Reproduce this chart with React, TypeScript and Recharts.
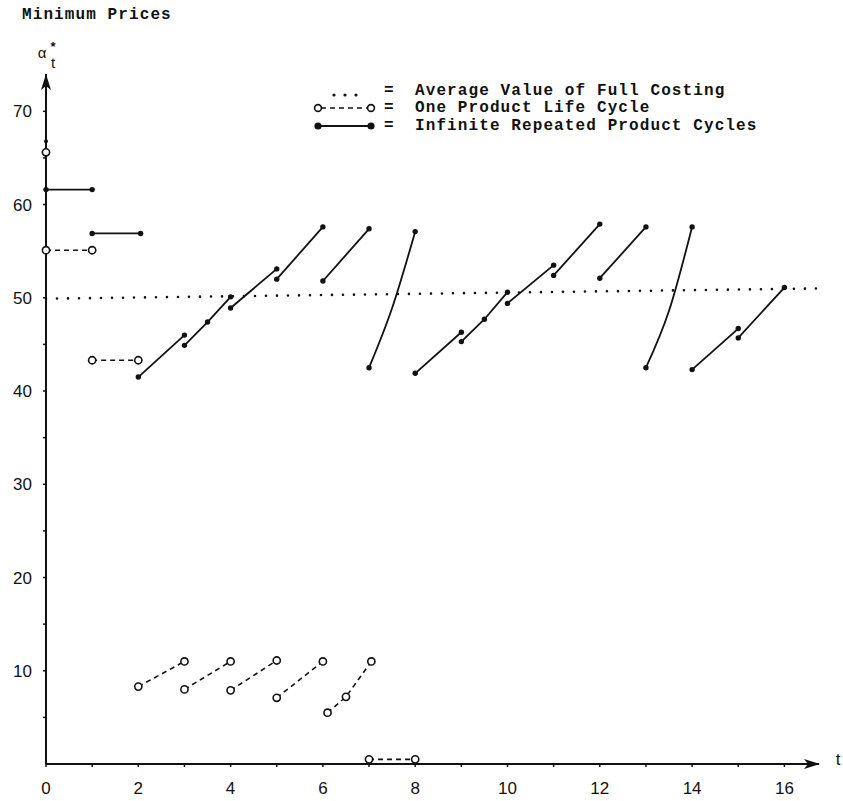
import { ComposedChart, Line, XAxis, YAxis, ReferenceDot } from "recharts";

type Pt = [number, number]; // [t, minimum price]

// average value of full costing (dotted)
const averageCosting: Pt[] = [
  [0, 49.9],
  [16.75, 51.0],
];

// infinite repeated product cycles (solid, filled dots)
const infiniteStart: Pt[] = [[0, 66.8]];
const infiniteSteps: Pt[][] = [
  [[0, 61.6], [1, 61.6]],
  [[1, 56.9], [2.05, 56.9]],
];
const infiniteCycles: Pt[][] = [
  [[2, 41.5], [3, 46.0]],
  [[3, 44.9], [3.5, 47.4], [4, 50.1]],
  [[4, 48.9], [5, 53.1]],
  [[5, 52.0], [6, 57.6]],
  [[6, 51.8], [7, 57.4]],
  [[8, 41.9], [9, 46.3]],
  [[9, 45.3], [9.5, 47.7], [10, 50.6]],
  [[10, 49.4], [11, 53.5]],
  [[11, 52.4], [12, 57.9]],
  [[12, 52.1], [13, 57.6]],
  [[14, 42.3], [15, 46.7]],
  [[15, 45.7], [16, 51.1]],
];
const infiniteJumps: Pt[][] = [
  [[7, 42.5], [7.5, 48.9], [8, 57.1]],
  [[13, 42.5], [13.5, 48.6], [14, 57.6]],
];

// one product life cycle (dashed, open circles)
const oneCycleStart: Pt[] = [[0, 65.6]];
const oneCycleTop: Pt[][] = [
  [[0, 55.1], [1, 55.1]],
  [[1, 43.3], [2, 43.3]],
];
const oneCycleBottom: Pt[][] = [
  [[2, 8.3], [3, 11.0]],
  [[3, 8.0], [4, 11.0]],
  [[4, 7.9], [5, 11.1]],
  [[5, 7.1], [6, 11.0]],
  [[6.1, 5.5], [6.5, 7.2], [7.05, 11.0]],
  [[7, 0.5], [8, 0.5]],
];

const xTicks = [0, 1, 2, 3, 4, 5, 6, 7, 8, 9, 10, 11, 12, 13, 14, 15, 16];
const yTicks = [5, 10, 15, 20, 25, 30, 35, 40, 45, 50, 55, 60, 65, 70];

const INK = "#111";
const MONO = "'Liberation Mono', 'DejaVu Sans Mono', monospace";
const SANS = "'Liberation Sans', Arial, sans-serif";

const toRows = (seg: Pt[]) => seg.map(([t, v]) => ({ t, v }));

// dots drawn by hand so the line's dash pattern doesn't leak into them
const filledDot = (r: number) => (p: any) =>
  <circle key={p.key ?? p.index} cx={p.cx} cy={p.cy} r={r} fill={INK} stroke="none" />;
const openDot = (p: any) => (
  <circle key={p.key ?? p.index} cx={p.cx} cy={p.cy} r={3.6} fill="#fff" stroke={INK} strokeWidth={1.6} />
);

export default function App() {
  const solid = [...infiniteSteps, ...infiniteCycles];
  const dashed = [...oneCycleTop, ...oneCycleBottom];

  return (
    <div style={{ position: "absolute", left: 0, top: 0, width: 843, height: 801, background: "#fff" }}>
      <ComposedChart width={843} height={801} margin={{ top: 74, right: 24, bottom: 0, left: 0 }}>
        <XAxis
          type="number"
          dataKey="t"
          domain={[0, 16.75]}
          ticks={xTicks}
          interval={0}
          tickFormatter={(v: number) => (v % 2 === 0 ? String(v) : "")}
          height={37}
          tickSize={3}
          tickMargin={15}
          axisLine={{ stroke: INK, strokeWidth: 2 }}
          tickLine={{ stroke: INK, strokeWidth: 1.5 }}
          tick={{ fill: INK, fontSize: 17, fontFamily: SANS }}
        />
        <YAxis
          type="number"
          domain={[0, 74]}
          ticks={yTicks}
          interval={0}
          tickFormatter={(v: number) => (v % 10 === 0 ? String(v) : "")}
          width={46}
          tickSize={3}
          tickMargin={11}
          axisLine={{ stroke: INK, strokeWidth: 2 }}
          tickLine={{ stroke: INK, strokeWidth: 1.5 }}
          tick={{ fill: INK, fontSize: 17, fontFamily: SANS }}
        />

        <Line
          data={toRows(averageCosting)}
          dataKey="v"
          type="linear"
          stroke={INK}
          strokeWidth={2.6}
          strokeDasharray="0 11"
          strokeLinecap="round"
          dot={false}
          activeDot={false}
          isAnimationActive={false}
        />

        {solid.map((seg, i) => (
          <Line
            key={"s" + i}
            data={toRows(seg)}
            dataKey="v"
            type="linear"
            stroke={INK}
            strokeWidth={1.8}
            dot={filledDot(2.7)}
            activeDot={false}
            isAnimationActive={false}
          />
        ))}
        {infiniteJumps.map((seg, i) => (
          <Line
            key={"j" + i}
            data={toRows(seg)}
            dataKey="v"
            type="natural"
            stroke={INK}
            strokeWidth={1.8}
            dot={(p: any) =>
              p.index === 1 ? (
                <g key={p.key ?? p.index} />
              ) : (
                <circle key={p.key ?? p.index} cx={p.cx} cy={p.cy} r={2.7} fill={INK} />
              )
            }
            activeDot={false}
            isAnimationActive={false}
          />
        ))}
        <Line
          data={toRows(infiniteStart)}
          dataKey="v"
          stroke={INK}
          dot={filledDot(2)}
          activeDot={false}
          isAnimationActive={false}
        />

        {dashed.map((seg, i) => (
          <Line
            key={"d" + i}
            data={toRows(seg)}
            dataKey="v"
            type="linear"
            stroke={INK}
            strokeWidth={1.6}
            strokeDasharray="5 4"
            dot={openDot}
            activeDot={false}
            isAnimationActive={false}
          />
        ))}
        <Line
          data={toRows(oneCycleStart)}
          dataKey="v"
          stroke={INK}
          dot={openDot}
          activeDot={false}
          isAnimationActive={false}
        />

        <ReferenceDot
          x={16.75}
          y={0}
          r={0}
          ifOverflow="visible"
          shape={(p: any) => <path d={`M${p.cx + 1},${p.cy} l-16,-5 l4,5 l-4,5 z`} fill={INK} />}
        />
        <ReferenceDot
          x={0}
          y={74}
          r={0}
          ifOverflow="visible"
          shape={(p: any) => <path d={`M${p.cx},${p.cy} l-5,16 l5,-4 l5,4 z`} fill={INK} />}
        />
      </ComposedChart>

      <svg width={843} height={801} style={{ position: "absolute", left: 0, top: 0, pointerEvents: "none" }}>
        <g fontFamily={MONO} fontWeight="bold" fontSize={16} letterSpacing={1.1} fill={INK}>
          <text x={22} y={15} dominantBaseline="central">Minimum Prices</text>

          <circle cx={334} cy={95} r={1.6} />
          <circle cx={345} cy={95} r={1.6} />
          <circle cx={356} cy={95} r={1.6} />
          <text x={384} y={91} dominantBaseline="central">=</text>
          <text x={415} y={91} dominantBaseline="central">Average Value of Full Costing</text>

          <line x1={321} y1={108} x2={367} y2={108} stroke={INK} strokeWidth={1.6} strokeDasharray="5 4" />
          <circle cx={318} cy={108} r={3.4} fill="#fff" stroke={INK} strokeWidth={1.6} />
          <circle cx={371} cy={108} r={3.4} fill="#fff" stroke={INK} strokeWidth={1.6} />
          <text x={384} y={108} dominantBaseline="central">=</text>
          <text x={415} y={108} dominantBaseline="central">One Product Life Cycle</text>

          <line x1={318} y1={126} x2={371} y2={126} stroke={INK} strokeWidth={1.8} />
          <circle cx={318} cy={126} r={3.6} />
          <circle cx={371} cy={126} r={3.6} />
          <text x={384} y={126} dominantBaseline="central">=</text>
          <text x={415} y={126} dominantBaseline="central">Infinite Repeated Product Cycles</text>
        </g>

        <g fill={INK} fontFamily={SANS}>
          <text x={42} y={52} fontSize={15} textAnchor="middle" dominantBaseline="central">α</text>
          <text x={53} y={46} fontSize={13} fontWeight="bold" textAnchor="middle" dominantBaseline="central">*</text>
          <text x={53} y={62} fontSize={15} textAnchor="middle" dominantBaseline="central">t</text>
          <text x={838} y={759} fontSize={17} textAnchor="middle" dominantBaseline="central">t</text>
        </g>
      </svg>
    </div>
  );
}
